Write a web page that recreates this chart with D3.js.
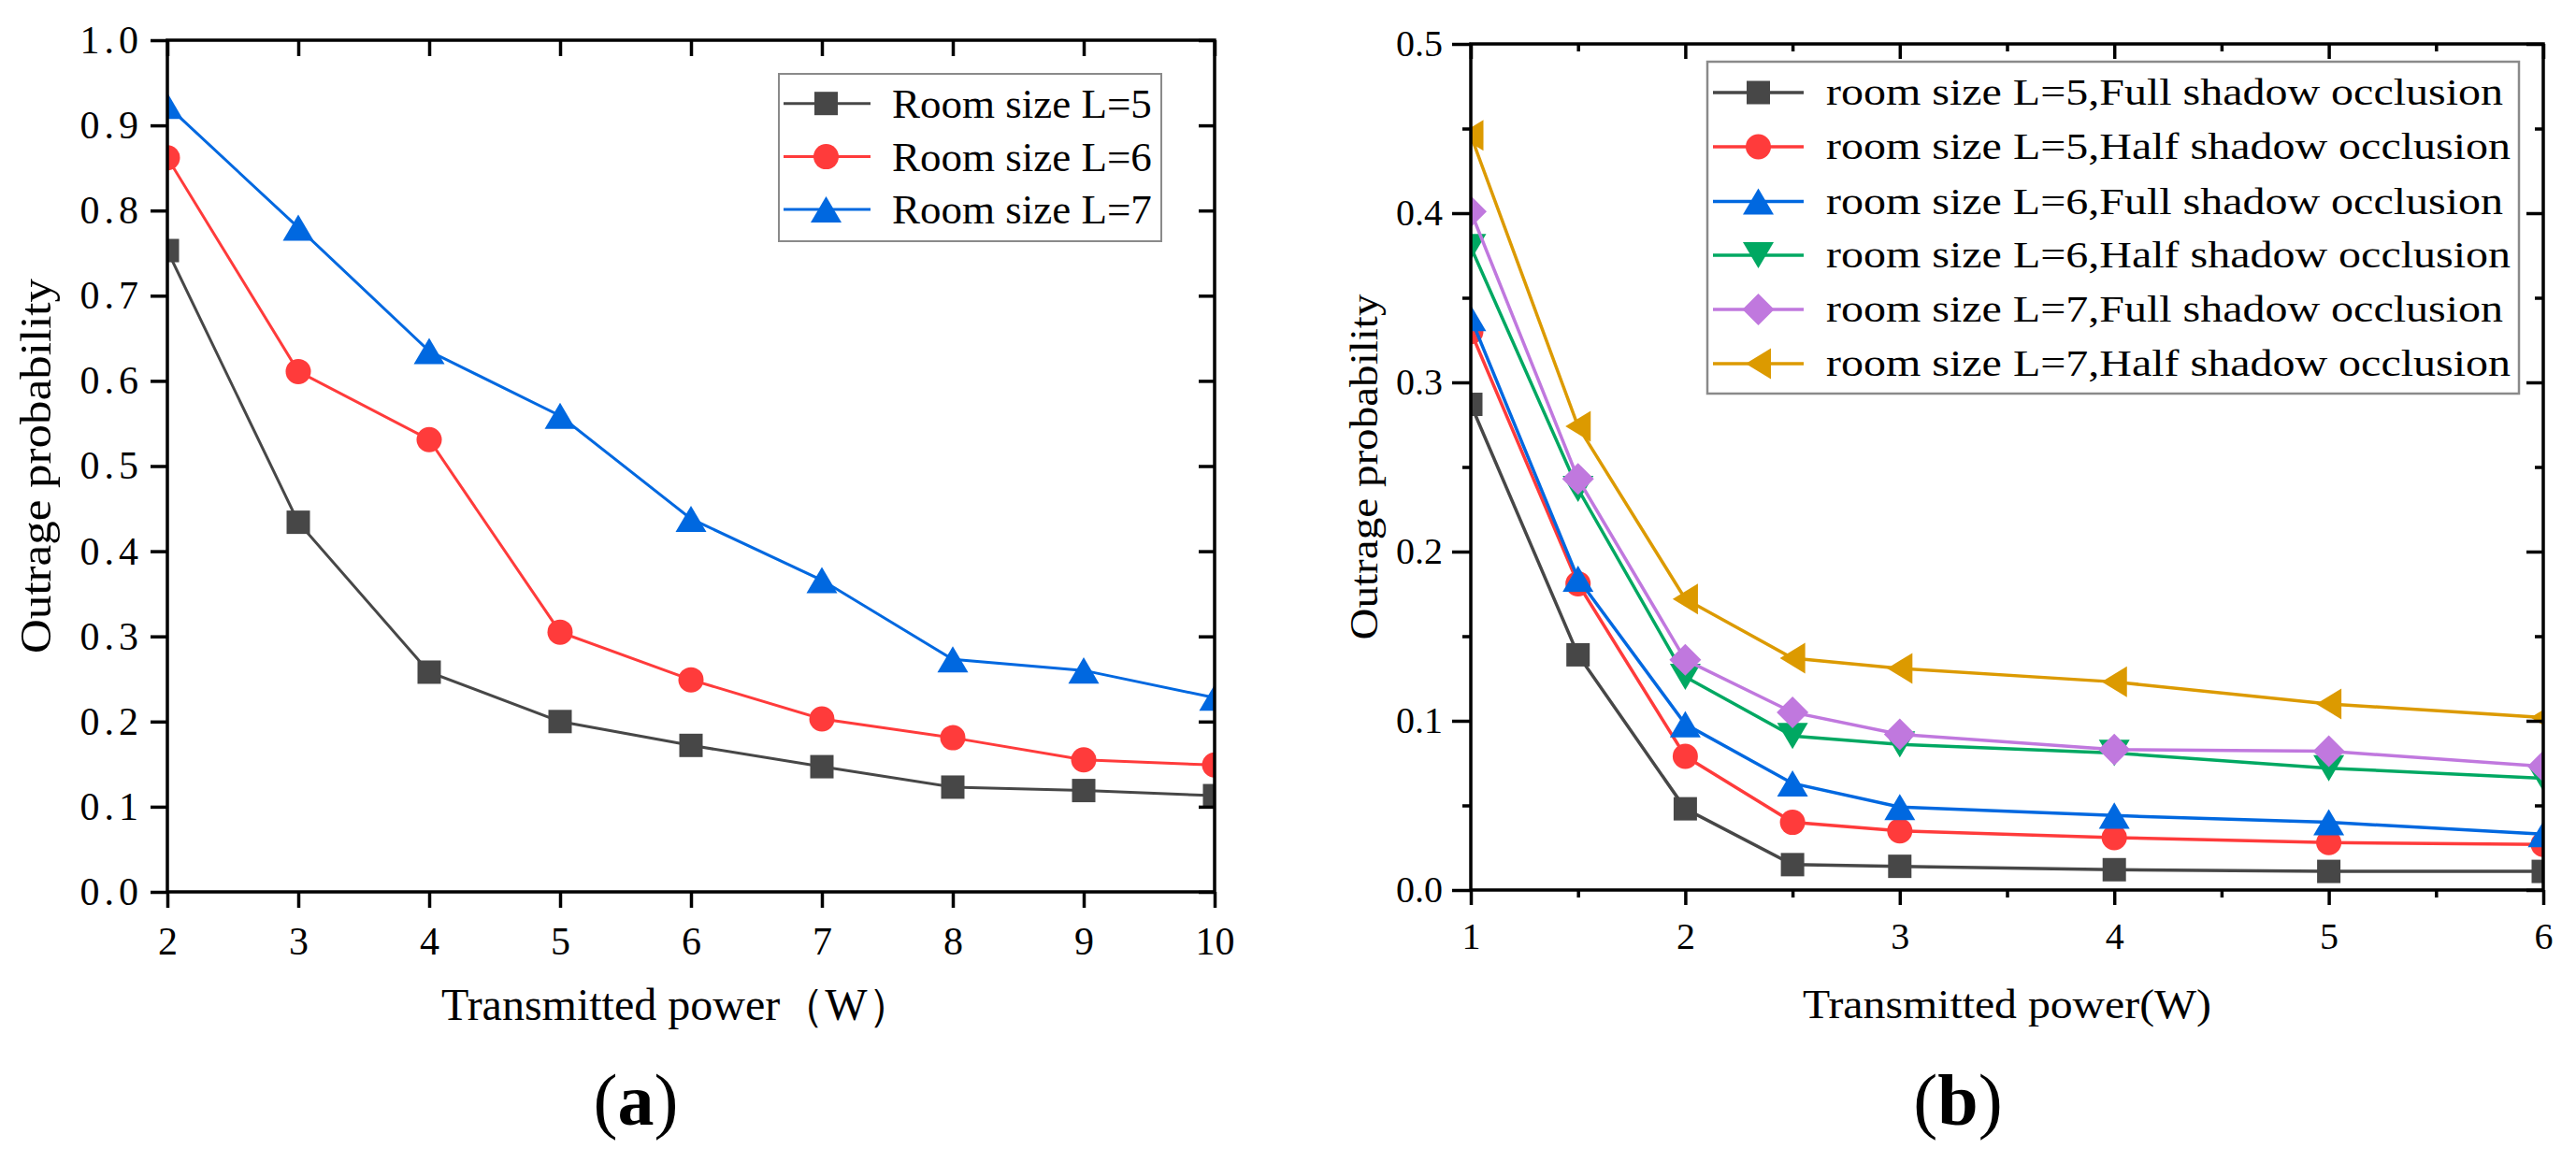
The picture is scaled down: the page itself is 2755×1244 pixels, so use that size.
<!DOCTYPE html>
<html>
<head>
<meta charset="utf-8">
<script src="https://cdn.jsdelivr.net/npm/d3@7"></script>
<style>
  html, body { margin: 0; padding: 0; background: #ffffff; }
  svg { display: block; }
  text { font-family: "Liberation Serif", "Times New Roman", serif; fill: #000; }
</style>
</head>
<body>
<svg id="chart" width="2755" height="1244"></svg>
<script>
// ---------------- DATA ----------------
// Panel (a)
const powerA = [2, 3, 4, 5, 6, 7, 8, 9, 10];
const roomL5 = [0.753, 0.434, 0.258, 0.200, 0.172, 0.147, 0.123, 0.119, 0.113];
const roomL6 = [0.862, 0.611, 0.531, 0.305, 0.249, 0.203, 0.181, 0.155, 0.149];
const roomL7 = [0.923, 0.780, 0.635, 0.559, 0.438, 0.366, 0.273, 0.260, 0.228];
const legendA = ["Room size L=5", "Room size L=6", "Room size L=7"];
const yTicksA = [0, 0.1, 0.2, 0.3, 0.4, 0.5, 0.6, 0.7, 0.8, 0.9, 1.0];
const xTicksA = [2, 3, 4, 5, 6, 7, 8, 9, 10];

// Panel (b)
const powerB = [1, 1.5, 2, 2.5, 3, 4, 5, 6];
const l5Full = [0.287, 0.139, 0.048, 0.015, 0.014, 0.012, 0.011, 0.011];
const l5Half = [0.330, 0.181, 0.079, 0.040, 0.035, 0.031, 0.028, 0.027];
const l6Full = [0.338, 0.184, 0.098, 0.063, 0.049, 0.044, 0.040, 0.033];
const l6Half = [0.380, 0.237, 0.126, 0.091, 0.086, 0.081, 0.072, 0.066];
const l7Full = [0.401, 0.243, 0.136, 0.105, 0.092, 0.083, 0.082, 0.073];
const l7Half = [0.446, 0.274, 0.172, 0.137, 0.131, 0.123, 0.110, 0.102];
const legendB = [
  "room size L=5,Full shadow occlusion",
  "room size L=5,Half shadow occlusion",
  "room size L=6,Full shadow occlusion",
  "room size L=6,Half shadow occlusion",
  "room size L=7,Full shadow occlusion",
  "room size L=7,Half shadow occlusion"
];
const yTicksB = [0, 0.1, 0.2, 0.3, 0.4, 0.5];
const yMinorB = [0.05, 0.15, 0.25, 0.35, 0.45];
const xTicksB = [1, 2, 3, 4, 5, 6];
const xMinorB = [1.5, 2.5, 3.5, 4.5, 5.5];

// ---------------- STYLES ----------------
const C_GRAY = "#474747", C_RED = "#ff3b3b", C_BLUE = "#0068e0",
      C_GREEN = "#00a862", C_PURPLE = "#c078de", C_ORANGE = "#dc9a00";

// custom marker shapes (size = nominal width in px)
const shapes = {
  square:  { draw(ctx, s) { const h = s / 2; ctx.rect(-h, -h, s, s); } },
  circle:  { draw(ctx, s) { const r = s / 2; ctx.moveTo(r, 0); ctx.arc(0, 0, r, 0, 2 * Math.PI); } },
  triUp:   { draw(ctx, s) { const w = s / 2, h = s * 0.85 / 2; ctx.moveTo(0, -h); ctx.lineTo(w, h); ctx.lineTo(-w, h); ctx.closePath(); } },
  triDown: { draw(ctx, s) { const w = s / 2, h = s * 0.85 / 2; ctx.moveTo(0, h); ctx.lineTo(w, -h); ctx.lineTo(-w, -h); ctx.closePath(); } },
  triLeft: { draw(ctx, s) { const w = s / 2, h = s * 0.82 / 2; ctx.moveTo(-h, 0); ctx.lineTo(h, -w); ctx.lineTo(h, w); ctx.closePath(); } },
  diamond: { draw(ctx, s) { const h = s / 2; ctx.moveTo(0, -h); ctx.lineTo(h, 0); ctx.lineTo(0, h); ctx.lineTo(-h, 0); ctx.closePath(); } }
};
const markerSize = { square: 25, circle: 27, triUp: 33, triDown: 33, triLeft: 33, diamond: 34 };

const seriesA = [
  { name: legendA[0], values: roomL5, color: C_GRAY, shape: "square" },
  { name: legendA[1], values: roomL6, color: C_RED,  shape: "circle" },
  { name: legendA[2], values: roomL7, color: C_BLUE, shape: "triUp" }
];
const seriesB = [
  { name: legendB[0], values: l5Full, color: C_GRAY,   shape: "square" },
  { name: legendB[1], values: l5Half, color: C_RED,    shape: "circle" },
  { name: legendB[2], values: l6Full, color: C_BLUE,   shape: "triUp" },
  { name: legendB[3], values: l6Half, color: C_GREEN,  shape: "triDown" },
  { name: legendB[4], values: l7Full, color: C_PURPLE, shape: "diamond" },
  { name: legendB[5], values: l7Half, color: C_ORANGE, shape: "triLeft" }
];

const svg = d3.select("#chart");
const FONT = "'Liberation Serif', 'Times New Roman', serif";

function styleAxis(g, w) {
  g.select(".domain").remove();
  g.selectAll(".tick line").attr("stroke", "#000").attr("stroke-width", w);
  g.selectAll("text").attr("font-family", FONT).attr("fill", "#000");
}

function drawSeries(g, series, xs, x, y, lw) {
  const line = d3.line().x((d, i) => x(xs[i])).y(d => y(d));
  series.forEach(s => {
    g.append("path").datum(s.values)
      .attr("fill", "none").attr("stroke", s.color)
      .attr("stroke-width", lw).attr("stroke-linejoin", "miter")
      .attr("d", line);
    g.selectAll(null).data(s.values).enter().append("path")
      .attr("transform", (d, i) => `translate(${x(xs[i])},${y(d)})`)
      .attr("fill", s.color)
      .attr("d", d3.symbol().type(shapes[s.shape]).size(markerSize[s.shape]));
  });
}

// ================= PANEL (a) =================
(function () {
  const L = 179, R = 1299, T = 43, B = 954;
  const x = d3.scaleLinear().domain([2, 10]).range([L, R]);
  const y = d3.scaleLinear().domain([0, 1]).range([B, T]);
  const AW = 3.5;

  svg.append("clipPath").attr("id", "clipA")
    .append("rect").attr("x", L).attr("y", T - 40).attr("width", R - L).attr("height", B - T + 40);

  const plot = svg.append("g").attr("clip-path", "url(#clipA)");
  drawSeries(plot, seriesA, powerA, x, y, 3);

  // left axis (outward ticks with labels)
  const gl = svg.append("g").attr("transform", `translate(${L},0)`)
    .call(d3.axisLeft(y).tickValues(yTicksA).tickSize(18).tickPadding(13).tickFormat(d3.format(".1f")));
  styleAxis(gl, AW);
  gl.selectAll("text").attr("font-size", 42).attr("letter-spacing", "5px").attr("dx", "5px");

  // bottom axis
  const gb = svg.append("g").attr("transform", `translate(0,${B})`)
    .call(d3.axisBottom(x).tickValues(xTicksA).tickSize(17).tickFormat(d3.format("d")));
  styleAxis(gb, AW);
  gb.selectAll("text").attr("font-size", 42).attr("y", 67).attr("dy", 0);

  // top axis (inward ticks, no labels)
  const gt = svg.append("g").attr("transform", `translate(0,${T})`)
    .call(d3.axisBottom(x).tickValues(xTicksA).tickSize(17).tickFormat(""));
  styleAxis(gt, AW);
  // right axis (inward ticks)
  const gr = svg.append("g").attr("transform", `translate(${R},0)`)
    .call(d3.axisLeft(y).tickValues(yTicksA).tickSize(17).tickFormat(""));
  styleAxis(gr, AW);

  // frame
  svg.append("rect").attr("x", L).attr("y", T).attr("width", R - L).attr("height", B - T)
    .attr("fill", "none").attr("stroke", "#000").attr("stroke-width", AW);

  // axis titles
  svg.append("text").attr("transform", `translate(54,${(T + B) / 2}) rotate(-90)`)
    .attr("text-anchor", "middle").attr("font-size", 46)
    .attr("textLength", 401).attr("lengthAdjust", "spacingAndGlyphs")
    .text("Outrage probability");
  svg.append("text").attr("x", 472).attr("y", 1091)
    .attr("font-size", 48)
    .text("Transmitted power（W）");

  // legend
  const lg = svg.append("g");
  lg.append("rect").attr("x", 833).attr("y", 79).attr("width", 409).attr("height", 179)
    .attr("fill", "#fff").attr("stroke", "#8a8a8a").attr("stroke-width", 2);
  const rowsY = [110.7, 167.6, 224];
  seriesA.forEach((s, i) => {
    const yy = rowsY[i];
    lg.append("line").attr("x1", 838).attr("x2", 931).attr("y1", yy).attr("y2", yy)
      .attr("stroke", s.color).attr("stroke-width", 3);
    lg.append("path").attr("transform", `translate(883.5,${yy})`).attr("fill", s.color)
      .attr("d", d3.symbol().type(shapes[s.shape]).size(markerSize[s.shape]));
    lg.append("text").attr("x", 954).attr("y", yy + 15).attr("font-size", 45).text(s.name);
  });

  // panel label
  const lab = svg.append("text").attr("x", 680).attr("y", 1203).attr("text-anchor", "middle").attr("font-size", 78);
  lab.append("tspan").text("(");
  lab.append("tspan").attr("font-weight", "bold").text("a");
  lab.append("tspan").text(")");
})();

// ================= PANEL (b) =================
(function () {
  const L = 1573, R = 2720, T = 47, B = 952;
  const x = d3.scaleLinear().domain([1, 6]).range([L, R]);
  const y = d3.scaleLinear().domain([0, 0.5]).range([B, T]);
  const AW = 3.5;

  svg.append("clipPath").attr("id", "clipB")
    .append("rect").attr("x", L).attr("y", T - 40).attr("width", R - L).attr("height", B - T + 40);

  const plot = svg.append("g").attr("clip-path", "url(#clipB)");
  drawSeries(plot, seriesB, powerB, x, y, 3.5);

  // left axis
  const gl = svg.append("g").attr("transform", `translate(${L},0)`)
    .call(d3.axisLeft(y).tickValues(yTicksB).tickSize(20).tickPadding(10).tickFormat(d3.format(".1f")));
  styleAxis(gl, AW);
  gl.selectAll("text").attr("font-size", 40);
  const glm = svg.append("g").attr("transform", `translate(${L},0)`)
    .call(d3.axisLeft(y).tickValues(yMinorB).tickSize(9).tickFormat(""));
  styleAxis(glm, AW);

  // bottom axis
  const gb = svg.append("g").attr("transform", `translate(0,${B})`)
    .call(d3.axisBottom(x).tickValues(xTicksB).tickSize(16).tickFormat(d3.format("d")));
  styleAxis(gb, AW);
  gb.selectAll("text").attr("font-size", 40).attr("y", 63).attr("dy", 0);
  const gbm = svg.append("g").attr("transform", `translate(0,${B})`)
    .call(d3.axisBottom(x).tickValues(xMinorB).tickSize(8).tickFormat(""));
  styleAxis(gbm, AW);

  // top axis (inward)
  const gt = svg.append("g").attr("transform", `translate(0,${T})`)
    .call(d3.axisBottom(x).tickValues(xTicksB).tickSize(16).tickFormat(""));
  styleAxis(gt, AW);
  const gtm = svg.append("g").attr("transform", `translate(0,${T})`)
    .call(d3.axisBottom(x).tickValues(xMinorB).tickSize(8).tickFormat(""));
  styleAxis(gtm, AW);
  // right axis (inward)
  const gr = svg.append("g").attr("transform", `translate(${R},0)`)
    .call(d3.axisLeft(y).tickValues(yTicksB).tickSize(18).tickFormat(""));
  styleAxis(gr, AW);
  const grm = svg.append("g").attr("transform", `translate(${R},0)`)
    .call(d3.axisLeft(y).tickValues(yMinorB).tickSize(9).tickFormat(""));
  styleAxis(grm, AW);

  svg.append("rect").attr("x", L).attr("y", T).attr("width", R - L).attr("height", B - T)
    .attr("fill", "none").attr("stroke", "#000").attr("stroke-width", AW);

  // axis titles
  svg.append("text").attr("transform", `translate(1473,${(T + B) / 2}) rotate(-90)`)
    .attr("text-anchor", "middle").attr("font-size", 42)
    .attr("textLength", 370).attr("lengthAdjust", "spacingAndGlyphs")
    .text("Outrage probability");
  svg.append("text").attr("x", (L + R) / 2).attr("y", 1089)
    .attr("text-anchor", "middle").attr("font-size", 44)
    .attr("textLength", 437).attr("lengthAdjust", "spacingAndGlyphs")
    .text("Transmitted power(W)");

  // legend
  const lg = svg.append("g");
  lg.append("rect").attr("x", 1826).attr("y", 66).attr("width", 868).attr("height", 355)
    .attr("fill", "#fff").attr("stroke", "#8a8a8a").attr("stroke-width", 2.5);
  const rowsY = [99, 157, 215.5, 273, 331, 389];
  seriesB.forEach((s, i) => {
    const yy = rowsY[i];
    lg.append("line").attr("x1", 1832).attr("x2", 1929).attr("y1", yy).attr("y2", yy)
      .attr("stroke", s.color).attr("stroke-width", 3.5);
    lg.append("path").attr("transform", `translate(1880.5,${yy})`).attr("fill", s.color)
      .attr("d", d3.symbol().type(shapes[s.shape]).size(markerSize[s.shape]));
    const tl = s.name.indexOf("Half") >= 0 ? 732 : 724;
    lg.append("text").attr("x", 1953).attr("y", yy + 13).attr("font-size", 39)
      .attr("textLength", tl).attr("lengthAdjust", "spacingAndGlyphs").text(s.name);
  });

  const lab = svg.append("text").attr("x", 2094).attr("y", 1203).attr("text-anchor", "middle").attr("font-size", 78);
  lab.append("tspan").text("(");
  lab.append("tspan").attr("font-weight", "bold").text("b");
  lab.append("tspan").text(")");
})();
</script>
</body>
</html>
